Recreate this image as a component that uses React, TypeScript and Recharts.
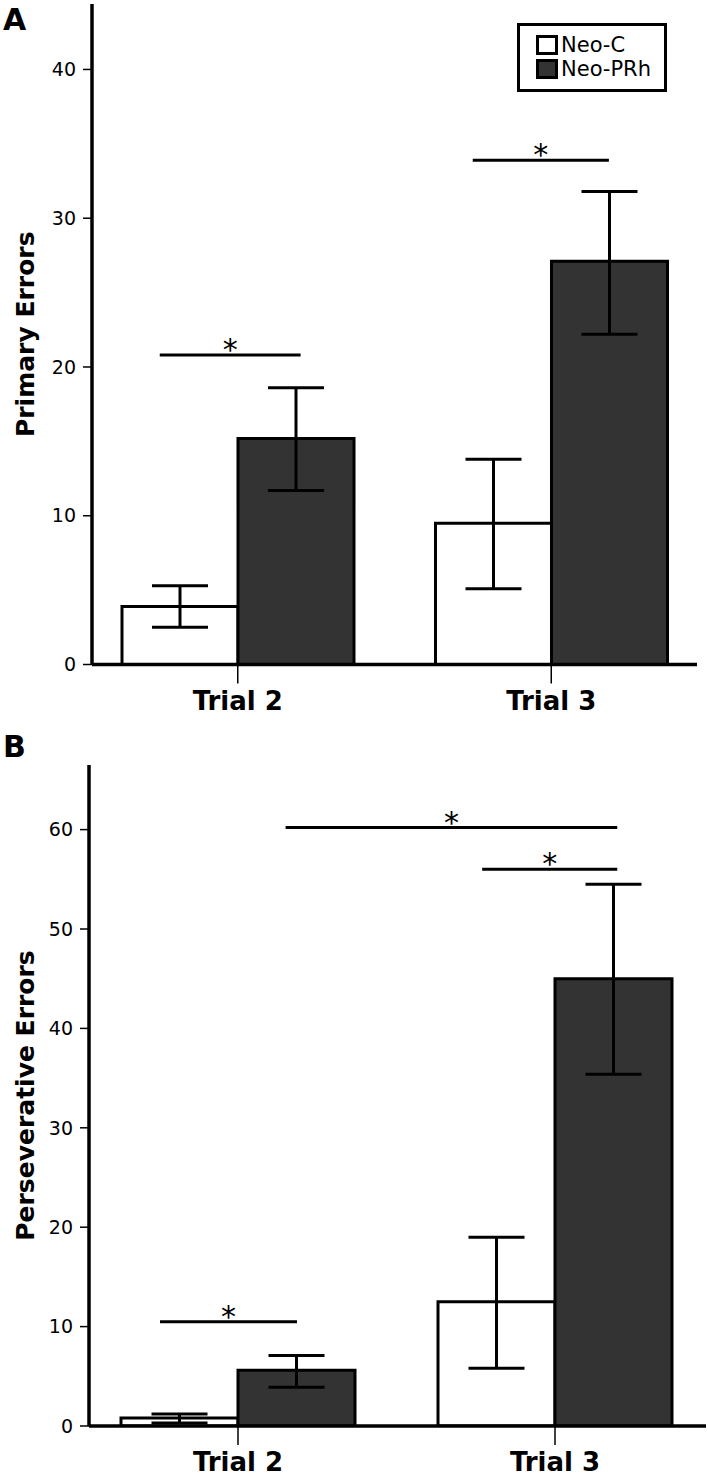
import React from "react";
import { BarChart, Bar, XAxis, YAxis, ErrorBar, ReferenceLine } from "recharts";

const trials = ["Trial 2", "Trial 3"];
const trialNumbers = [2, 3];

// Panel A: primary errors (mean, lower / upper error bar ends)
const primaryNeoC = [3.9, 9.5];
const primaryNeoCLow = [2.5, 5.1];
const primaryNeoCHigh = [5.3, 13.8];
const primaryNeoPRh = [15.2, 27.1];
const primaryNeoPRhLow = [11.7, 22.2];
const primaryNeoPRhHigh = [18.6, 31.8];
const primaryTicks = [0, 10, 20, 30, 40];

// Panel B: perseverative errors
const persevNeoC = [0.8, 12.5];
const persevNeoCLow = [0.3, 5.8];
const persevNeoCHigh = [1.2, 19.0];
const persevNeoPRh = [5.6, 45.0];
const persevNeoPRhLow = [3.9, 35.4];
const persevNeoPRhHigh = [7.1, 54.5];
const persevTicks = [0, 10, 20, 30, 40, 50, 60];

// significance brackets, x in trial units (2 = Trial 2, 3 = Trial 3)
const primarySig = [
  { from: 1.75, to: 2.2, y: 20.8 },
  { from: 2.75, to: 3.185, y: 33.9 },
];
const persevSig = [
  { from: 2.15, to: 3.196, y: 60.2 },
  { from: 2.77, to: 3.196, y: 56.0 },
  { from: 1.754, to: 2.186, y: 10.5 },
];

const FONT = "'DejaVu Sans', Verdana, sans-serif";

function rows(c: number[], cl: number[], ch: number[], p: number[], pl: number[], ph: number[]) {
  return trials.map((trial, i) => ({
    trial,
    pos: trialNumbers[i],
    neoC: c[i],
    neoCErr: [c[i] - cl[i], ch[i] - c[i]],
    neoPRh: p[i],
    neoPRhErr: [p[i] - pl[i], ph[i] - p[i]],
  }));
}

const primaryData = rows(primaryNeoC, primaryNeoCLow, primaryNeoCHigh, primaryNeoPRh, primaryNeoPRhLow, primaryNeoPRhHigh);
const persevData = rows(persevNeoC, persevNeoCLow, persevNeoCHigh, persevNeoPRh, persevNeoPRhLow, persevNeoPRhHigh);

function LegendBox() {
  const item = (fill: string, text: string) => (
    <div style={{ display: "flex", alignItems: "center", height: 24 }}>
      <div style={{ width: 16, height: 14, border: "3px solid #000", background: fill, marginRight: 3 }} />
      <span style={{ fontSize: 21, lineHeight: "24px", fontFamily: FONT, color: "#000" }}>{text}</span>
    </div>
  );
  return (
    <div
      style={{
        position: "absolute",
        left: 517,
        top: 23,
        width: 150,
        height: 69,
        border: "3px solid #000",
        background: "#fff",
        padding: "7px 0 0 16px",
        boxSizing: "border-box",
      }}
    >
      {item("#fff", "Neo-C")}
      {item("#333", "Neo-PRh")}
    </div>
  );
}

type PanelProps = {
  data: any[];
  width: number;
  height: number;
  top: number;
  bottom: number;
  left: number;
  right: number;
  padding: { left: number; right: number };
  gap: number;
  yMax: number;
  ticks: number[];
  yLabel: string;
  numDomain: [number, number];
  sig: { from: number; to: number; y: number }[];
};

function Panel(p: PanelProps) {
  return (
    <BarChart
      width={p.width}
      height={p.height}
      data={p.data}
      margin={{ top: p.top, right: p.right, left: 0, bottom: p.bottom - 48 }}
      barCategoryGap={p.gap}
      barGap={0}
    >
      <XAxis
        dataKey="trial"
        height={48}
        padding={p.padding}
        axisLine={{ stroke: "#000", strokeWidth: 3.5 }}
        tickLine={{ stroke: "#000", strokeWidth: 1.5 }}
        tickSize={19}
        tickMargin={8}
        tick={{ fontSize: 26, fontWeight: "bold", fill: "#000", fontFamily: FONT }}
      />
      <XAxis xAxisId="num" dataKey="pos" type="number" domain={p.numDomain} allowDataOverflow hide />
      <YAxis
        width={p.left}
        domain={[0, p.yMax]}
        ticks={p.ticks}
        allowDataOverflow
        axisLine={{ stroke: "#000", strokeWidth: 3.5 }}
        tickLine={{ stroke: "#000", strokeWidth: 1.5 }}
        tickSize={9}
        tickMargin={7}
        tick={{ fontSize: 19, fill: "#000", fontFamily: FONT }}
        label={{
          content: (props: any) => {
            const vb = props.viewBox;
            const cx = vb.x + 25;
            const cy = vb.y + vb.height / 2;
            return (
              <text
                x={cx}
                y={cy}
                transform={`rotate(-90, ${cx}, ${cy})`}
                textAnchor="middle"
                dominantBaseline="central"
                fontSize={25}
                fontWeight="bold"
                fontFamily={FONT}
                fill="#000"
              >
                {p.yLabel}
              </text>
            );
          },
        }}
      />
      <Bar dataKey="neoC" name="Neo-C" fill="#fff" stroke="#000" strokeWidth={3} isAnimationActive={false}>
        <ErrorBar dataKey="neoCErr" width={28} stroke="#000" strokeWidth={3} />
      </Bar>
      <Bar dataKey="neoPRh" name="Neo-PRh" fill="#333" stroke="#000" strokeWidth={3} isAnimationActive={false}>
        <ErrorBar dataKey="neoPRhErr" width={28} stroke="#000" strokeWidth={3} />
      </Bar>
      {p.sig.map((s, i) => (
        <ReferenceLine
          key={i}
          xAxisId="num"
          segment={[
            { x: s.from, y: s.y },
            { x: s.to, y: s.y },
          ]}
          stroke="#000"
          strokeWidth={3}
          ifOverflow="visible"
          label={{ value: "*", position: "top", offset: -5, fontSize: 30, fill: "#000", fontFamily: FONT }}
        />
      ))}
    </BarChart>
  );
}

export default function App() {
  return (
    <div style={{ position: "absolute", left: 0, top: 0, width: 708, height: 1479, background: "#fff" }}>
      <div style={{ position: "absolute", left: 0, top: 0 }}>
        <Panel
          data={primaryData}
          width={708}
          height={720}
          top={4}
          bottom={55.5}
          left={92}
          right={11}
          padding={{ left: -11, right: -11 }}
          gap={41}
          yMax={44.4}
          ticks={primaryTicks}
          yLabel="Primary Errors"
          numDomain={[1.5335, 3.4665]}
          sig={primarySig}
        />
      </div>
      <div style={{ position: "absolute", left: 0, top: 720 }}>
        <Panel
          data={persevData}
          width={708}
          height={759}
          top={45}
          bottom={53}
          left={89}
          right={2}
          padding={{ left: -9.5, right: -7.5 }}
          gap={41.5}
          yMax={66.5}
          ticks={persevTicks}
          yLabel="Perseverative Errors"
          numDomain={[1.53, 3.476]}
          sig={persevSig}
        />
      </div>
      <LegendBox />
      <div style={{ position: "absolute", left: 3, top: 4.6, fontSize: 30, lineHeight: "30px", fontWeight: "bold", fontFamily: FONT }}>A</div>
      <div style={{ position: "absolute", left: 3, top: 731.6, fontSize: 30, lineHeight: "30px", fontWeight: "bold", fontFamily: FONT }}>B</div>
    </div>
  );
}
